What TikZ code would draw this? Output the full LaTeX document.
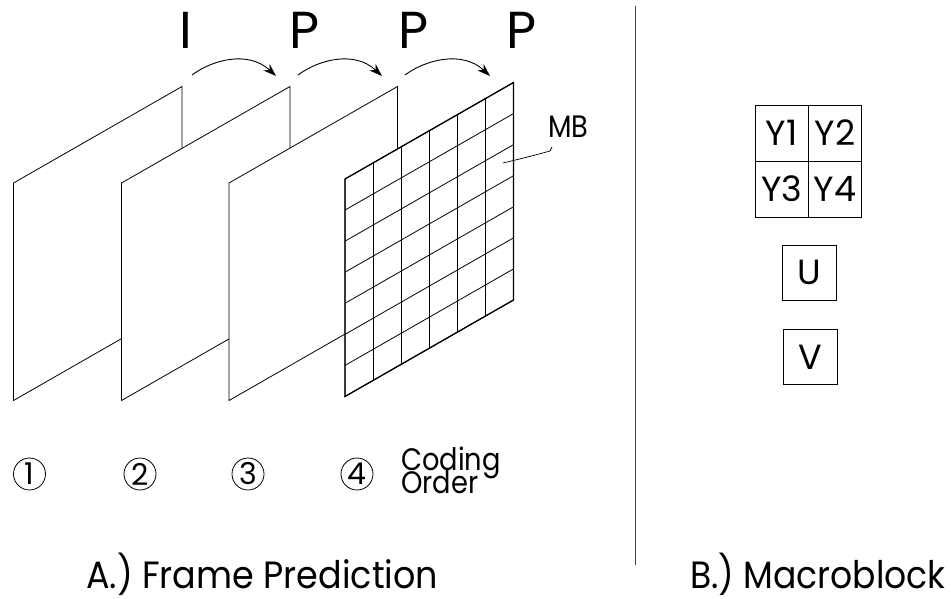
\documentclass[tikz,border=0pt]{standalone}
\usepackage{fontspec}
\usepackage{graphicx}
\setmainfont{Poppins}
\usetikzlibrary{arrows.meta,calc}
\newcommand{\tightlines}{\setlength{\lineskiplimit}{-100pt}\setlength{\lineskip}{0pt}}
\newcommand{\narrowtext}[2]{\scalebox{#1}[1]{#2}}
\tikzset{
  framebox/.style={draw=black, line width=0.8pt, fill=white, line join=miter},
  gridbox/.style={draw=black, line width=1.3pt, line join=miter},
  gridline/.style={draw=black, line width=0.8pt},
  seqlbl/.style={font=\fontsize{52}{52}\selectfont, anchor=base, inner sep=0pt},
  predarrow/.style={draw=black, line width=0.9pt, -{Stealth[length=13pt,width=9pt]}},
  cell/.style={draw=black, line width=0.8pt, minimum width=53.3pt, minimum height=56pt, inner sep=0pt, font=\fontsize{35}{35}\selectfont},
  ordnum/.style={circle, draw=black, line width=0.8pt, minimum size=32pt, inner sep=0pt, font=\fontsize{30}{30}\selectfont},
  titlelbl/.style={font=\fontsize{38}{38}\selectfont, anchor=base west, inner sep=0pt},
  smalllbl/.style={font=\fontsize{31}{23.5}\selectfont\tightlines, inner sep=0pt},
  leader/.style={draw=black, line width=0.7pt},
  divider/.style={draw=black!75, line width=1pt}
}
\begin{document}
\begin{tikzpicture}[x=1pt,y=-1pt]
\useasboundingbox (0,0) rectangle (951,598);
% frames (back to front)
\foreach \fx/\fy [count=\k] in {13.5/183, 121.5/183, 229/183, 345/179}{
  \coordinate (f\k tl) at (\fx,\fy);
  \coordinate (f\k tr) at (\fx+168.5,\fy-96.5);
  \coordinate (f\k br) at (\fx+168.5,\fy+121);
  \coordinate (f\k bl) at (\fx,\fy+217.5);
  \path[framebox] (f\k tl) -- (f\k tr) -- (f\k br) -- (f\k bl) -- cycle;
}
% grid on the fourth frame
\foreach \i in {1,...,5}{
  \draw[gridline] ($(f4tl)!\i/6!(f4tr)$) -- ($(f4bl)!\i/6!(f4br)$);
}
\foreach \j in {1,...,6}{
  \draw[gridline] ($(f4tl)!\j/7!(f4bl)$) -- ($(f4tr)!\j/7!(f4br)$);
}
\draw[gridbox] (f4tl) -- (f4tr) -- (f4br) -- (f4bl) -- cycle;
% sequence labels
\node[seqlbl] (lI)  at (185.5,48) {I};
\node[seqlbl] (lP1) at (305,48) {P};
\node[seqlbl] (lP2) at (413.5,48) {P};
\node[seqlbl] (lP3) at (521.5,48) {P};
% prediction arrows
\coordinate (a1s) at (192,75);  \coordinate (a1e) at (276,76);
\coordinate (a2s) at (298,75);  \coordinate (a2e) at (382,76);
\coordinate (a3s) at (405,75);  \coordinate (a3e) at (490,76);
\draw[predarrow] (a1s) .. controls (212,60) and (248,50) .. (a1e);
\draw[predarrow] (a2s) .. controls (318,60) and (354,50) .. (a2e);
\draw[predarrow] (a3s) .. controls (425,60) and (462,50) .. (a3e);
% MB label
\node[smalllbl, anchor=base] (mb) at (568.5,137) {\narrowtext{0.88}{MB}};
\coordinate (mbcell) at (503,163);
\coordinate (mbhook) at (552,147);
\draw[leader] (mbcell) .. controls (528,157) .. (550,151) -- (mbhook);
% coding order
\node[ordnum] (o1) at (29.5,474) {1};
\node[ordnum] (o2) at (140,474) {2};
\node[ordnum] (o3) at (248,474) {3};
\node[ordnum] (o4) at (357,474) {4};
\node[smalllbl, anchor=base west, align=left] (co) at (401,493.5) {\narrowtext{0.88}{Coding}\\\narrowtext{0.88}{Order}};
% divider
\coordinate (dtop) at (635,6);
\coordinate (dbot) at (635,565);
\draw[divider] (dtop) -- (dbot);
% macroblock
\node[cell] (y1) at (781.7,133) {Y1};
\node[cell] (y2) at (835,133) {Y2};
\node[cell] (y3) at (781.7,189) {Y3};
\node[cell] (y4) at (835,189) {Y4};
\node[cell, minimum width=54pt, minimum height=55pt] (u) at (809,272.5) {U};
\node[cell, minimum width=54pt, minimum height=55pt] (v) at (810.3,357) {V};
% titles
\node[titlelbl] (ta) at (86,588.5) {\narrowtext{0.92}{A.) Frame Prediction}};
\node[titlelbl] (tb) at (690,588.5) {\narrowtext{0.91}{B.) Macroblock}};
\end{tikzpicture}
\end{document}
